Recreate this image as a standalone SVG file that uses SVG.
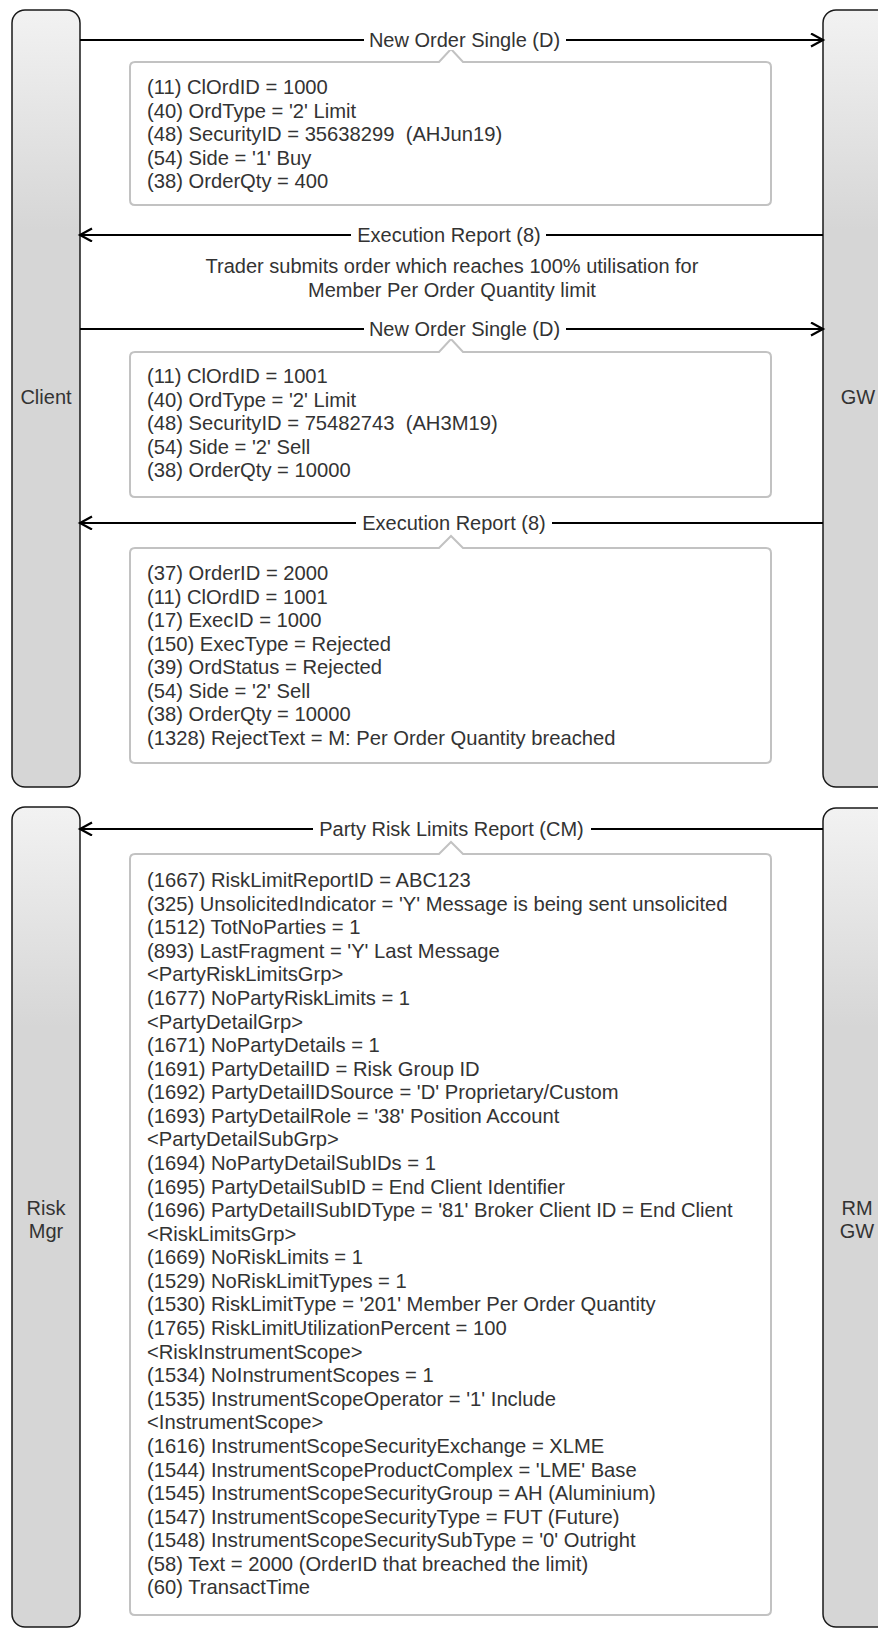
<svg xmlns="http://www.w3.org/2000/svg" width="878" height="1628" viewBox="0 0 878 1628">
<style>
.lane{stroke:#1a1a1a;stroke-width:1.5}
.lbl{font-family:"Liberation Sans",Arial,sans-serif;font-size:20px;fill:#333333;text-anchor:middle}
.note{fill:#ffffff;stroke:#c2c2c2;stroke-width:2}
.nt{font-family:"Liberation Sans",Arial,sans-serif;font-size:20.2px;fill:#333333;white-space:pre}
.msg{stroke:#000000;stroke-width:2.2;fill:none}
.bg{fill:#ffffff}
</style>
<defs>
<linearGradient id="gTop" gradientUnits="userSpaceOnUse" x1="0" y1="10" x2="0" y2="230">
<stop offset="0" stop-color="#f2f2f2"/><stop offset="1" stop-color="#d6d6d6"/>
</linearGradient>
<linearGradient id="gBot" gradientUnits="userSpaceOnUse" x1="0" y1="807" x2="0" y2="1027">
<stop offset="0" stop-color="#f2f2f2"/><stop offset="1" stop-color="#d6d6d6"/>
</linearGradient>
<marker id="arr" markerUnits="userSpaceOnUse" markerWidth="16" markerHeight="16" viewBox="0 0 16 16" refX="13" refY="7" orient="auto">
<path d="M1,0.5 L13,7 L1,13.5" fill="none" stroke="#000" stroke-width="2.2"/>
</marker>
</defs>

<g id="client">
<rect class="lane" x="12" y="10" width="68" height="777" rx="13" fill="url(#gTop)"/>
<text class="lbl" x="46" y="404">Client</text>
</g>
<g id="gw">
<rect class="lane" x="823" y="10" width="68" height="777" rx="13" fill="url(#gTop)"/>
<text class="lbl" x="858" y="404">GW</text>
</g>
<g id="riskmgr">
<rect class="lane" x="12" y="807" width="68" height="820" rx="13" fill="url(#gBot)"/>
<text class="lbl" x="46" y="1215">Risk</text>
<text class="lbl" x="46" y="1238">Mgr</text>
</g>
<g id="rmgw">
<rect class="lane" x="823" y="808" width="68" height="819" rx="13" fill="url(#gBot)"/>
<text class="lbl" x="857" y="1215">RM</text>
<text class="lbl" x="857" y="1238">GW</text>
</g>

<g id="note1">
<path class="note" d="M135,62 L439,62 L451,49 L463,62 L766,62 Q771,62 771,67 L771,200 Q771,205 766,205 L135,205 Q130,205 130,200 L130,67 Q130,62 135,62 Z"/>
<text class="nt" x="147" y="94">(11) ClOrdID = 1000</text>
<text class="nt" x="147" y="117.5">(40) OrdType = '2' Limit</text>
<text class="nt" x="147" y="141" xml:space="preserve">(48) SecurityID = 35638299  (AHJun19)</text>
<text class="nt" x="147" y="164.5">(54) Side = '1' Buy</text>
<text class="nt" x="147" y="188">(38) OrderQty = 400</text>
</g>

<g id="comment">
<text class="lbl" x="452" y="273">Trader submits order which reaches 100% utilisation for</text>
<text class="lbl" x="452" y="297">Member Per Order Quantity limit</text>
</g>

<g id="note2">
<path class="note" d="M135,352 L439,352 L451,339 L463,352 L766,352 Q771,352 771,357 L771,492 Q771,497 766,497 L135,497 Q130,497 130,492 L130,357 Q130,352 135,352 Z"/>
<text class="nt" x="147" y="383">(11) ClOrdID = 1001</text>
<text class="nt" x="147" y="406.5">(40) OrdType = '2' Limit</text>
<text class="nt" x="147" y="430" xml:space="preserve">(48) SecurityID = 75482743  (AH3M19)</text>
<text class="nt" x="147" y="453.5">(54) Side = '2' Sell</text>
<text class="nt" x="147" y="477">(38) OrderQty = 10000</text>
</g>

<g id="note3">
<path class="note" d="M135,548 L439,548 L451,536 L463,548 L766,548 Q771,548 771,553 L771,758 Q771,763 766,763 L135,763 Q130,763 130,758 L130,553 Q130,548 135,548 Z"/>
<text class="nt" x="147" y="580">(37) OrderID = 2000</text>
<text class="nt" x="147" y="603.5">(11) ClOrdID = 1001</text>
<text class="nt" x="147" y="627">(17) ExecID = 1000</text>
<text class="nt" x="147" y="650.5">(150) ExecType = Rejected</text>
<text class="nt" x="147" y="674">(39) OrdStatus = Rejected</text>
<text class="nt" x="147" y="697.5">(54) Side = '2' Sell</text>
<text class="nt" x="147" y="721">(38) OrderQty = 10000</text>
<text class="nt" x="147" y="744.5">(1328) RejectText = M: Per Order Quantity breached</text>
</g>

<g id="note4">
<path class="note" d="M135,854 L439,854 L451,842 L463,854 L766,854 Q771,854 771,859 L771,1610 Q771,1615 766,1615 L135,1615 Q130,1615 130,1610 L130,859 Q130,854 135,854 Z"/>
<text class="nt" x="147" y="887">(1667) RiskLimitReportID = ABC123</text>
<text class="nt" x="147" y="910.6">(325) UnsolicitedIndicator = 'Y' Message is being sent unsolicited</text>
<text class="nt" x="147" y="934.2">(1512) TotNoParties = 1</text>
<text class="nt" x="147" y="957.7">(893) LastFragment = 'Y' Last Message</text>
<text class="nt" x="147" y="981.3">&lt;PartyRiskLimitsGrp&gt;</text>
<text class="nt" x="147" y="1004.9">(1677) NoPartyRiskLimits = 1</text>
<text class="nt" x="147" y="1028.5">&lt;PartyDetailGrp&gt;</text>
<text class="nt" x="147" y="1052.1">(1671) NoPartyDetails = 1</text>
<text class="nt" x="147" y="1075.6">(1691) PartyDetailID = Risk Group ID</text>
<text class="nt" x="147" y="1099.2">(1692) PartyDetailIDSource = 'D' Proprietary/Custom</text>
<text class="nt" x="147" y="1122.8">(1693) PartyDetailRole = '38' Position Account</text>
<text class="nt" x="147" y="1146.4">&lt;PartyDetailSubGrp&gt;</text>
<text class="nt" x="147" y="1170">(1694) NoPartyDetailSubIDs = 1</text>
<text class="nt" x="147" y="1193.5">(1695) PartyDetailSubID = End Client Identifier</text>
<text class="nt" x="147" y="1217.1">(1696) PartyDetailISubIDType = '81' Broker Client ID = End Client</text>
<text class="nt" x="147" y="1240.7">&lt;RiskLimitsGrp&gt;</text>
<text class="nt" x="147" y="1264.3">(1669) NoRiskLimits = 1</text>
<text class="nt" x="147" y="1287.9">(1529) NoRiskLimitTypes = 1</text>
<text class="nt" x="147" y="1311.4">(1530) RiskLimitType = '201' Member Per Order Quantity</text>
<text class="nt" x="147" y="1335">(1765) RiskLimitUtilizationPercent = 100</text>
<text class="nt" x="147" y="1358.6">&lt;RiskInstrumentScope&gt;</text>
<text class="nt" x="147" y="1382.2">(1534) NoInstrumentScopes = 1</text>
<text class="nt" x="147" y="1405.8">(1535) InstrumentScopeOperator = '1' Include</text>
<text class="nt" x="147" y="1429.3">&lt;InstrumentScope&gt;</text>
<text class="nt" x="147" y="1452.9">(1616) InstrumentScopeSecurityExchange = XLME</text>
<text class="nt" x="147" y="1476.5">(1544) InstrumentScopeProductComplex = 'LME' Base</text>
<text class="nt" x="147" y="1500.1">(1545) InstrumentScopeSecurityGroup = AH (Aluminium)</text>
<text class="nt" x="147" y="1523.7">(1547) InstrumentScopeSecurityType = FUT (Future)</text>
<text class="nt" x="147" y="1547.2">(1548) InstrumentScopeSecuritySubType = '0' Outright</text>
<text class="nt" x="147" y="1570.8">(58) Text = 2000 (OrderID that breached the limit)</text>
<text class="nt" x="147" y="1594.4">(60) TransactTime</text>
</g>

<g id="connectors">
<line class="msg" x1="80" y1="40" x2="823" y2="40" marker-end="url(#arr)"/>
<rect class="bg" x="364" y="30" width="202" height="20"/>
<text class="lbl" x="464.5" y="47">New Order Single (D)</text>

<line class="msg" x1="823" y1="235" x2="80" y2="235" marker-end="url(#arr)"/>
<rect class="bg" x="351" y="225" width="195" height="20"/>
<text class="lbl" x="449" y="242">Execution Report (8)</text>

<line class="msg" x1="80" y1="329" x2="823" y2="329" marker-end="url(#arr)"/>
<rect class="bg" x="364" y="319" width="202" height="20"/>
<text class="lbl" x="464.5" y="336">New Order Single (D)</text>

<line class="msg" x1="823" y1="523" x2="80" y2="523" marker-end="url(#arr)"/>
<rect class="bg" x="356" y="513" width="196" height="20"/>
<text class="lbl" x="454" y="530">Execution Report (8)</text>

<line class="msg" x1="823" y1="829" x2="80" y2="829" marker-end="url(#arr)"/>
<rect class="bg" x="313" y="819" width="278" height="20"/>
<text class="lbl" x="451.5" y="836">Party Risk Limits Report (CM)</text>
</g>
</svg>
